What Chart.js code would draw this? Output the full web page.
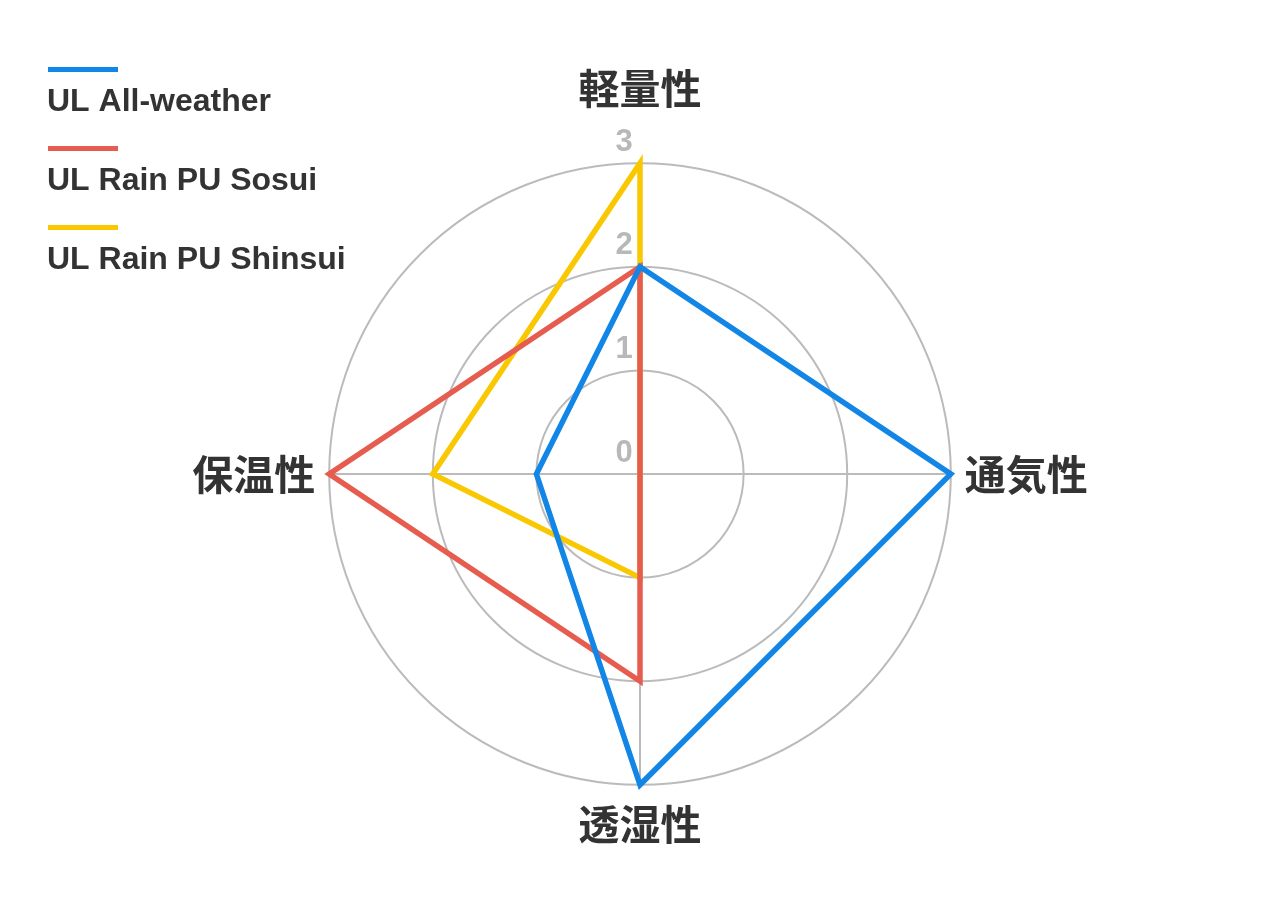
<!DOCTYPE html>
<html>
<head>
<meta charset="utf-8">
<script src="https://cdn.jsdelivr.net/npm/chart.js@4.4.0/dist/chart.umd.min.js"></script>
<style>
  html, body { margin: 0; padding: 0; background: #fff; }
  #wrap { width: 1280px; height: 914px; position: relative; }
</style>
</head>
<body>
<div id="wrap"><canvas id="myChart"></canvas></div>
<script>
const categories = ['軽量性', '通気性', '透湿性', '保温性'];
const seriesNames = ['UL All-weather', 'UL Rain PU Sosui', 'UL Rain PU Shinsui'];
const allWeather = [2, 3, 3, 1];
const rainSosui = [2, 0, 2, 3];
const rainShinsui = [3, 0, 1, 2];
const tickLabels = ['0', '1', '2', '3'];

const colorarray = ['#1286e6', '#e65c4f', '#f9c800'];
const seriesValues = [allWeather, rainSosui, rainShinsui];

const jpFont = "'Noto Sans CJK JP', 'Noto Sans', sans-serif";
const latinFont = "'Liberation Sans', Arial, sans-serif";

// tick numbers drawn a bit above each ring (chart.js skips the 0 one)
const tickLabelPlugin = {
	id: 'tickLabelPlugin',
	beforeDatasetsDraw(chart) {
		const scale = chart.scales.r;
		const c = chart.ctx;
		c.save();
		c.font = 'bold 31px ' + latinFont;
		c.fillStyle = '#b8b8b8';
		c.textAlign = 'center';
		c.textBaseline = 'middle';
		scale.ticks.forEach(function(tick, i) {
			let offset = scale.getDistanceFromCenterForValue(tick.value);
			c.fillText(tickLabels[i], scale.xCenter - 16, scale.yCenter - offset - 21);
		});
		c.restore();
	}
};

// legend with the line sample above the name
const stackedLegend = {
	id: 'stackedLegend',
	afterDraw(chart) {
		const c = chart.ctx;
		c.save();
		chart.data.datasets.forEach(function(ds, i) {
			let y = 69.5 + i * 79;
			c.strokeStyle = ds.borderColor;
			c.lineWidth = 5;
			c.beginPath();
			c.moveTo(48, y);
			c.lineTo(118, y);
			c.stroke();
			c.font = 'bold 32px ' + latinFont;
			c.fillStyle = '#333333';
			c.textAlign = 'left';
			c.textBaseline = 'alphabetic';
			c.fillText(ds.label, 47, y + 41);
		});
		c.restore();
	}
};

let ctx = document.getElementById('myChart').getContext('2d');
let myChart = new Chart(ctx, {
	type: 'radar',
	data: {
		labels: categories,
		datasets: seriesValues.map(function(vals, k) {
			return {
				label: seriesNames[k],
				data: vals,
				borderColor: colorarray[k],
				backgroundColor: colorarray[k],
				borderWidth: 5.5,
				fill: false,
				pointRadius: 0,
				pointHoverRadius: 0,
				tension: 0
			};
		})
	},
	options: {
		responsive: true,
		maintainAspectRatio: false,
		animation: false,
		layout: {
			padding: { top: 47, bottom: 47, left: 0, right: 0 }
		},
		plugins: {
			legend: { display: false },
			tooltip: { enabled: false }
		},
		scales: {
			r: {
				min: 0,
				max: 3,
				ticks: {
					stepSize: 1,
					display: false
				},
				grid: {
					circular: true,
					color: '#bbbbbb',
					lineWidth: 2
				},
				angleLines: {
					color: '#bbbbbb',
					lineWidth: 2
				},
				pointLabels: {
					color: '#333333',
					font: { family: jpFont, size: 41, weight: 'bold' },
					padding: function(c) {
						if (c.index === 0) return 50;
						if (c.index === 2) return 15;
						return 14;
					}
				}
			}
		}
	},
	plugins: [tickLabelPlugin, stackedLegend]
});
</script>
</body>
</html>
